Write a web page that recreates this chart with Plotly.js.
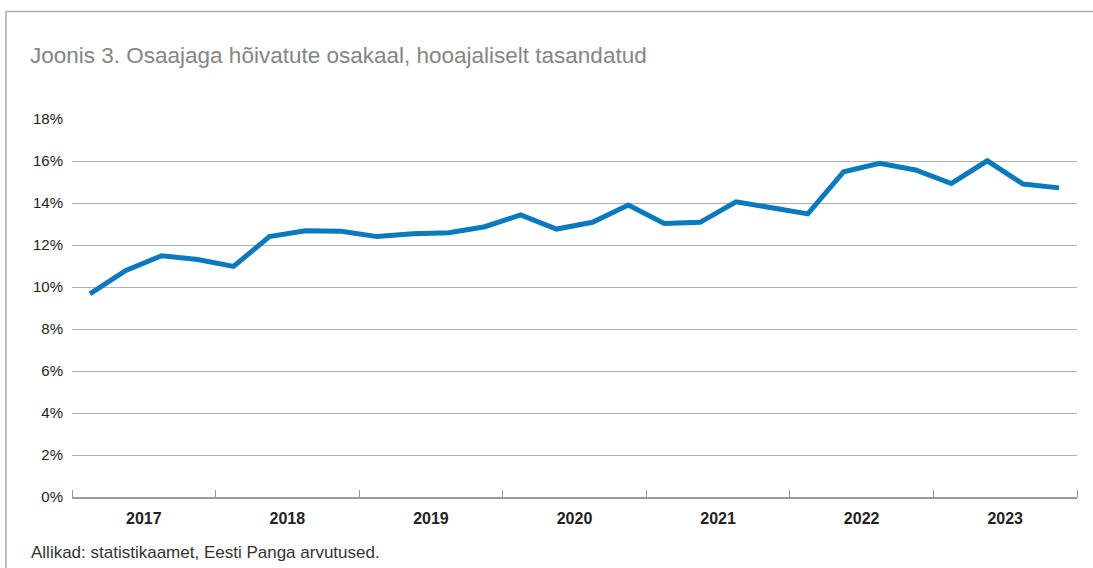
<!DOCTYPE html>
<html>
<head>
<meta charset="utf-8">
<script src="https://cdn.plot.ly/plotly-3.0.1.min.js"></script>
<style>html,body{margin:0;padding:0;background:#fff;}#chart{width:1093px;height:568px;}</style>
</head>
<body>
<div id="chart"></div>
<script>
var years = ['2017','2018','2019','2020','2021','2022','2023'];
var quarters = [
 '2017 I','2017 II','2017 III','2017 IV',
 '2018 I','2018 II','2018 III','2018 IV',
 '2019 I','2019 II','2019 III','2019 IV',
 '2020 I','2020 II','2020 III','2020 IV',
 '2021 I','2021 II','2021 III','2021 IV',
 '2022 I','2022 II','2022 III','2022 IV',
 '2023 I','2023 II','2023 III','2023 IV'];
var partTimeShare = [
 9.67,10.79,11.49,11.31,
 10.98,12.40,12.68,12.65,
 12.40,12.54,12.58,12.87,
 13.43,12.76,13.08,13.90,
 13.02,13.08,14.06,13.75,
 13.48,15.49,15.89,15.57,
 14.93,16.01,14.90,14.72];
var yTicks = [0,2,4,6,8,10,12,14,16,18];

var xIdx = quarters.map(function(q,i){return i;});
var yearCenters = years.map(function(y,i){return i*4+1.5;});
var yearBounds = years.map(function(y,i){return i*4-0.5;}).concat([years.length*4-0.5]);

var W=1093,H=568,L=72,R=16,T=119,B=71;
var pw=W-L-R, ph=H-T-B;
function px(x){return (x-L)/pw;}
function py(y){return (H-B-y)/ph;}

var trace = {
  x: xIdx, y: partTimeShare, type:'scatter', mode:'lines',
  line:{color:'#0a79bd', width:5}, hoverinfo:'skip'
};

var layout = {
  width:W, height:H,
  margin:{l:L,r:R,t:T,b:B},
  paper_bgcolor:'#fff', plot_bgcolor:'#fff',
  showlegend:false,
  font:{family:'Liberation Sans, Arial, sans-serif', color:'#222'},
  title:{text:'Joonis 3. Osaajaga hõivatute osakaal, hooajaliselt tasandatud',
    font:{size:22.5, color:'#858585', family:'Liberation Sans, Arial, sans-serif'},
    xref:'container', yref:'container', x:30/W, xanchor:'left', y:1-55/H, yanchor:'middle'},
  xaxis:{
    range:[-0.5, quarters.length-0.5], fixedrange:true,
    showgrid:false, zeroline:false,
    showline:true, linecolor:'#999', linewidth:1.5,
    tickmode:'array', tickvals:yearCenters, ticktext:years.map(function(y){return '<b>'+y+'</b>';}),
    ticks:'', ticklabelstandoff:6,
    tickfont:{size:16, color:'#222'},
    minor:{tickmode:'array', tickvals:yearBounds, ticks:'inside', ticklen:7, tickwidth:1, tickcolor:'#999', showgrid:false}
  },
  yaxis:{
    range:[0,18], tickmode:'array', tickvals:yTicks,
    ticktext:yTicks.map(function(v){return v+'%';}),
    showgrid:true, gridcolor:'#b0b0b0', gridwidth:1,
    zeroline:false, showline:false, ticks:'',
    ticklabelstandoff:8, tickfont:{size:15, color:'#222'}, fixedrange:true
  },
  shapes:[
    {type:'line', xref:'paper', yref:'paper', x0:px(6), x1:px(W), y0:py(11.5), y1:py(11.5), line:{color:'#aaa', width:1.5}},
    {type:'line', xref:'paper', yref:'paper', x0:px(6), x1:px(6), y0:py(11), y1:py(H), line:{color:'#aaa', width:1.5}}
  ],
  annotations:[
    {text:'Allikad: statistikaamet, Eesti Panga arvutused.', xref:'paper', yref:'paper',
     x:px(29), y:py(552), xanchor:'left', yanchor:'middle', showarrow:false,
     font:{size:17, color:'#333'}}
  ]
};

Plotly.newPlot('chart',[trace],layout,{displayModeBar:false, staticPlot:true});
</script>
</body>
</html>
